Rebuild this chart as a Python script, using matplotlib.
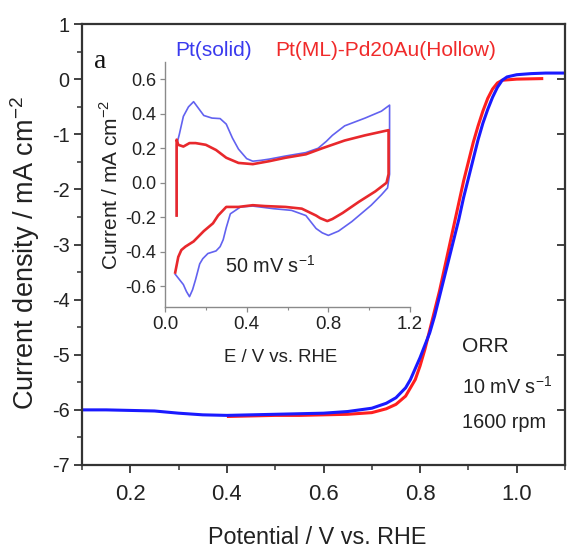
import numpy as np
import matplotlib
matplotlib.use("Agg")
import matplotlib.pyplot as plt
import matplotlib.font_manager as fm
from matplotlib.ticker import MultipleLocator

# ---------------- data ----------------
# ORR polarization curves (main panel)
orr_pt_x = [0.10, 0.15, 0.20, 0.25, 0.30, 0.35, 0.40, 0.45, 0.50, 0.55, 0.60, 0.65,
            0.70, 0.73, 0.75, 0.77, 0.78, 0.80, 0.82, 0.83, 0.84, 0.85, 0.86, 0.87,
            0.88, 0.89, 0.90, 0.91, 0.92, 0.93, 0.94, 0.95, 0.96, 0.97, 0.98, 1.00,
            1.03, 1.06, 1.10]
orr_pt_y = [-6.00, -6.00, -6.01, -6.02, -6.06, -6.09, -6.10, -6.09, -6.08, -6.07, -6.06, -6.03,
            -5.97, -5.88, -5.78, -5.60, -5.45, -5.05, -4.60, -4.30, -3.95, -3.60, -3.25, -2.90,
            -2.55, -2.15, -1.80, -1.45, -1.10, -0.80, -0.55, -0.33, -0.15, -0.02, 0.04, 0.08,
            0.10, 0.11, 0.11]
orr_ml_x = [0.40, 0.45, 0.50, 0.55, 0.60, 0.65, 0.70, 0.73, 0.75, 0.77, 0.79, 0.80,
            0.81, 0.82, 0.83, 0.84, 0.85, 0.86, 0.87, 0.88, 0.89, 0.90, 0.91, 0.92,
            0.93, 0.94, 0.95, 0.96, 0.97, 1.00, 1.055]
orr_ml_y = [-6.12, -6.11, -6.10, -6.10, -6.09, -6.08, -6.05, -5.98, -5.90, -5.75, -5.45, -5.20,
            -4.90, -4.55, -4.20, -3.85, -3.45, -3.05, -2.65, -2.25, -1.85, -1.50, -1.15, -0.85,
            -0.58, -0.35, -0.18, -0.07, -0.02, 0.00, 0.01]

# Cyclic voltammograms (inset)
cv_pt_x = [0.057, 0.057, 0.07, 0.09, 0.115, 0.14, 0.165, 0.19, 0.23, 0.27, 0.30, 0.33, 0.36,
           0.40, 0.43, 0.47, 0.51, 0.59, 0.69, 0.75, 0.79, 0.82, 0.88, 0.98, 1.06, 1.10,
           1.10, 1.09, 1.06, 1.01, 0.915, 0.85, 0.80, 0.77, 0.74, 0.69, 0.62, 0.53, 0.43,
           0.37, 0.32, 0.30, 0.285, 0.27, 0.25, 0.21, 0.185, 0.17, 0.15, 0.135, 0.12,
           0.105, 0.09, 0.07, 0.05]
cv_pt_y = [-0.19, 0.22, 0.28, 0.385, 0.44, 0.47, 0.43, 0.39, 0.375, 0.372, 0.34, 0.26, 0.195,
           0.14, 0.125, 0.13, 0.137, 0.155, 0.175, 0.20, 0.24, 0.275, 0.33, 0.375, 0.415, 0.45,
           0.05, -0.03, -0.07, -0.13, -0.225, -0.28, -0.305, -0.29, -0.265, -0.19, -0.16, -0.15, -0.135,
           -0.14, -0.18, -0.26, -0.33, -0.37, -0.395, -0.41, -0.44, -0.47, -0.56, -0.62, -0.66,
           -0.63, -0.59, -0.56, -0.53]
cv_ml_x = [0.057, 0.057, 0.065, 0.09, 0.12, 0.15, 0.20, 0.25, 0.30, 0.36, 0.43, 0.51, 0.59,
           0.69, 0.77, 0.88, 0.98, 1.095,
           1.095, 1.085, 1.03, 0.95, 0.87, 0.82, 0.795, 0.76, 0.74, 0.67, 0.59, 0.49, 0.43,
           0.36, 0.30, 0.26, 0.235, 0.19, 0.14, 0.10, 0.08, 0.065, 0.05]
cv_ml_y = [-0.19, 0.25, 0.22, 0.21, 0.23, 0.23, 0.22, 0.19, 0.145, 0.115, 0.108, 0.125, 0.145,
           0.165, 0.20, 0.245, 0.275, 0.305,
           0.05, 0.0, -0.05, -0.11, -0.175, -0.21, -0.222, -0.205, -0.19, -0.15, -0.14, -0.135, -0.13,
           -0.14, -0.14, -0.19, -0.235, -0.28, -0.34, -0.37, -0.39, -0.43, -0.52]

labels = ["Pt(solid)", "Pt(ML)-Pd20Au(Hollow)"]
main_xticks = [0.2, 0.4, 0.6, 0.8, 1.0]
main_yticks = [-7, -6, -5, -4, -3, -2, -1, 0, 1]
inset_xticks = [0.0, 0.4, 0.8, 1.2]
inset_yticks = [-0.6, -0.4, -0.2, 0.0, 0.2, 0.4, 0.6]

# ---------------- fonts ----------------
names = {f.name for f in fm.fontManager.ttflist}
REG = ["Liberation Sans", "DejaVu Sans"]
if "Liberation Sans Narrow" in names:
    NAR = ["Liberation Sans Narrow", "Liberation Sans", "DejaVu Sans"]
    k = 1.0
else:
    NAR = REG
    k = 0.84
plt.rcParams["font.family"] = REG
plt.rcParams["mathtext.fontset"] = "custom"
plt.rcParams["mathtext.rm"] = "Liberation Sans"

W, H = 568, 551
fig = plt.figure(figsize=(W / 100, H / 100), dpi=100)

def box(l, t, r, b):
    return [l / W, 1 - b / H, (r - l) / W, (b - t) / H]

BLUE = "#1a1aff"
RED = "#ff1f1f"
TXT = "#222222"

# ---------------- main axes ----------------
ax = fig.add_axes(box(82, 24, 565, 465))
ax.plot(orr_ml_x, orr_ml_y, color=RED, lw=2.2, solid_capstyle="butt")
ax.plot(orr_pt_x, orr_pt_y, color=BLUE, lw=2.2, solid_capstyle="butt")
ax.set_xlim(0.1, 1.1)
ax.set_ylim(-7, 1)
ax.set_xticks(main_xticks)
ax.set_yticks(main_yticks)
ax.xaxis.set_minor_locator(MultipleLocator(0.1))
ax.yaxis.set_minor_locator(MultipleLocator(0.5))
ax.set_xticklabels([f"{v:.1f}" for v in main_xticks], fontfamily=NAR, fontsize=19 * k, color=TXT)
ax.set_yticklabels([f"{v:d}" for v in main_yticks], fontfamily=NAR, fontsize=17 * k, color=TXT)
ax.tick_params(which="major", direction="out", length=6, width=1.3, colors="#333333")
ax.tick_params(which="minor", direction="out", length=3.5, width=1.1, colors="#333333")
ax.tick_params(axis="x", which="major", pad=8, labelcolor=TXT)
ax.tick_params(axis="y", which="major", pad=3, labelcolor=TXT)
for s in ax.spines.values():
    s.set_linewidth(1.6)
    s.set_color("#333333")
sec = ax.secondary_yaxis("right")
sec.set_yticks(main_yticks)
sec.tick_params(direction="in", length=6, width=1.3, colors="#333333", labelright=False)
sec.spines["right"].set_visible(False)

fig.text(317 / W, 1 - 537 / H, "Potential / V vs. RHE", fontfamily=NAR, fontsize=20 * k,
         color=TXT, ha="center", va="center")
fig.text(25 / W, 1 - 253 / H, "Current density / mA cm$^{-2}$", rotation=90,
         ha="center", va="center", fontsize=19.5, color=TXT, family=REG)

# annotations
fig.text(462 / W, 1 - 347 / H, "ORR", fontfamily=NAR, fontsize=18 * k, color=TXT, va="center")
fig.text(462 / W, 1 - 387 / H, "10 mV s$^{-1}$", fontfamily=NAR, fontsize=17 * k, color=TXT, va="center")
fig.text(462 / W, 1 - 423 / H, "1600 rpm", fontfamily=NAR, fontsize=17 * k, color=TXT, va="center")
fig.text(100 / W, 1 - 61 / H, "a", family=["Liberation Serif", "DejaVu Serif"], fontsize=20,
         color="#111111", ha="center", va="center")

# legend-like labels
fig.text(175 / W, 1 - 50 / H, labels[0], color="#3a3aee", fontsize=15, va="center")
fig.text(275 / W, 1 - 50 / H, labels[1], color="#f02a2a", fontsize=15, va="center")

# ---------------- inset ----------------
ins = fig.add_axes(box(165, 62, 410, 307))
ins.patch.set_alpha(0)
ins.plot(cv_pt_x, cv_pt_y, color="#6262f0", lw=1.2)
ins.plot(cv_ml_x, cv_ml_y, color="#e8282c", lw=1.9)
ins.set_xlim(0.0, 1.2)
ins.set_ylim(-0.72, 0.70)
ins.set_xticks(inset_xticks)
ins.set_yticks(inset_yticks)
ins.xaxis.set_minor_locator(MultipleLocator(0.2))
ins.set_xticklabels([f"{v:.1f}" for v in inset_xticks], fontsize=13.5, color=TXT)
ins.set_yticklabels([f"{v:.1f}" for v in inset_yticks], fontsize=13, color=TXT)
for side in ["top", "right"]:
    ins.spines[side].set_visible(False)
for side in ["left", "bottom"]:
    ins.spines[side].set_color("#8a8a8a")
    ins.spines[side].set_linewidth(1.0)
ins.tick_params(which="major", direction="out", length=3.5, width=0.9, colors="#8a8a8a", pad=3)
ins.tick_params(which="minor", direction="out", length=2, width=0.8, colors="#8a8a8a")
ins.tick_params(labelcolor=TXT)
fig.text(281 / W, 1 - 358 / H, "E / V vs. RHE", fontfamily=NAR, fontsize=16 * k, color=TXT,
         ha="center", va="center")
ins.set_ylabel("Current / mA cm$^{-2}$", fontsize=15, color=TXT, labelpad=2)
fig.text(225 / W, 1 - 266 / H, "50 mV s$^{-1}$", fontfamily=NAR, fontsize=17 * k, color=TXT, va="center")

fig.savefig("out.png", dpi=100)
